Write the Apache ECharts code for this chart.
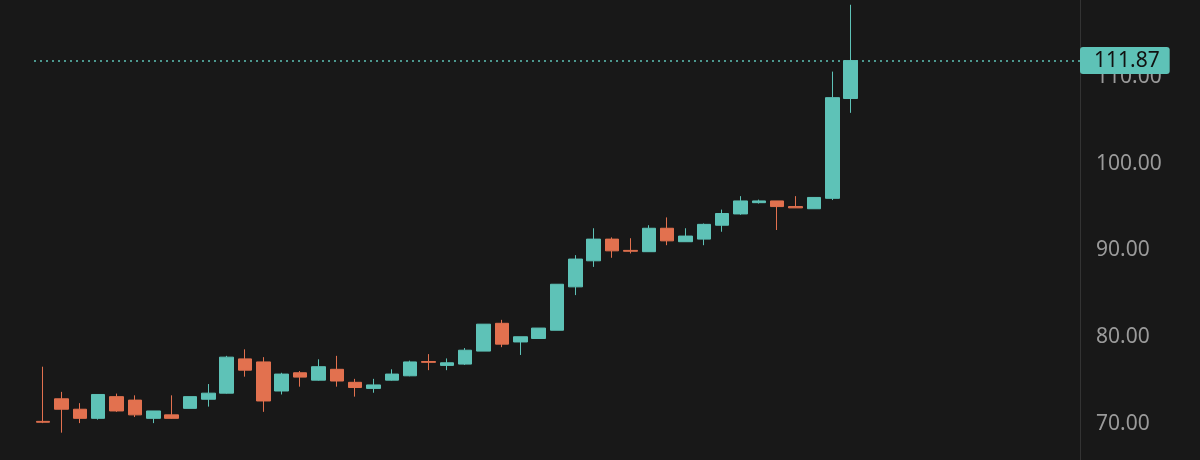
<!DOCTYPE html>
<html><head><meta charset="utf-8">
<script src="https://cdn.jsdelivr.net/npm/echarts@6/dist/echarts.min.js"></script>
<style>html,body{margin:0;background:#181818}#c{width:1200px;height:460px}</style>
</head><body><div id="c"></div>
<script>
// [open, close, low, high]
const opens  = [70.3,72.9,71.7,70.65,73.15,72.75,70.65,71.05,71.8,72.85,73.55,77.5,77.15,73.8,75.9,75.05,76.3,74.8,74.1,75.05,75.55,77.2,76.75,76.9,78.4,81.6,79.45,79.85,80.8,85.8,88.8,91.3,90.0,89.85,92.55,91.0,91.3,92.9,94.2,95.5,95.7,95.05,94.8,96.0,107.5];
const closes = [70.2,71.7,70.65,73.4,71.5,71.05,71.5,70.65,73.15,73.55,77.7,76.2,72.65,75.75,75.4,76.6,74.95,74.2,74.5,75.75,77.15,77.1,77.05,78.5,81.5,79.2,80.05,81.05,86.1,89.0,91.3,89.95,89.9,92.55,91.1,91.65,93.0,94.25,95.7,95.7,95.05,94.9,96.1,107.6,111.87];
const lows   = [70.1,69.0,70.1,70.5,71.4,70.8,70.1,70.6,71.8,72.0,73.5,75.45,71.4,73.4,74.3,75.0,74.3,73.15,73.6,75.0,75.5,76.2,76.2,76.8,78.4,78.85,77.95,79.85,80.8,84.85,88.1,89.15,89.65,89.85,90.6,91.0,90.6,92.15,94.1,95.4,92.35,94.9,94.8,95.8,105.85];
const highs  = [76.6,73.7,72.4,73.4,73.5,73.3,71.5,73.3,73.15,74.6,77.85,78.6,77.7,75.9,76.1,77.45,77.85,75.2,75.2,76.3,77.3,78.05,77.55,78.75,81.5,82.0,80.05,81.05,86.1,89.45,92.55,91.5,91.4,92.9,93.8,92.55,93.1,94.7,96.25,95.85,95.7,96.25,96.1,110.6,118.3];
const yTicks = [70,80,90,100,110];
const lastPrice = 111.87;

const N = 57;
const cats = Array.from({length:N},(_,i)=>String(i));
const data = opens.map((o,i)=>[o,closes[i],lows[i],highs[i]]);
const up='#5ec2b7', down='#e2714f';
const chart = echarts.init(document.getElementById('c'));
chart.setOption({
  backgroundColor:'#181818',
  animation:false,
  grid:{left:34,right:120,top:0,bottom:0},
  xAxis:{type:'category',data:cats,show:false,boundaryGap:true},
  yAxis:{type:'value',position:'right',min:65.85,max:118.85,
    splitLine:{show:false},
    axisLine:{show:true,lineStyle:{color:'#333'}},
    axisTick:{show:false},
    axisLabel:{customValues:yTicks,color:'#9a9a9a',fontSize:21,margin:16,fontFamily:'Noto Sans',
      formatter:v=>v.toFixed(2)}},
  series:[{type:'candlestick',data:data,barWidth:14,
    itemStyle:{color:up,color0:down,borderColor:up,borderColor0:down,borderWidth:1},
    markLine:{symbol:'none',silent:true,
      lineStyle:{color:up,type:[2,4],width:1.5},
      label:{position:'end',distance:0,formatter:lastPrice.toFixed(2),color:'#111',fontSize:21,fontFamily:'Noto Sans',
        backgroundColor:up,padding:[3,10,3,14],borderRadius:3},
      data:[{yAxis:lastPrice}]}}]
});
</script></body></html>
